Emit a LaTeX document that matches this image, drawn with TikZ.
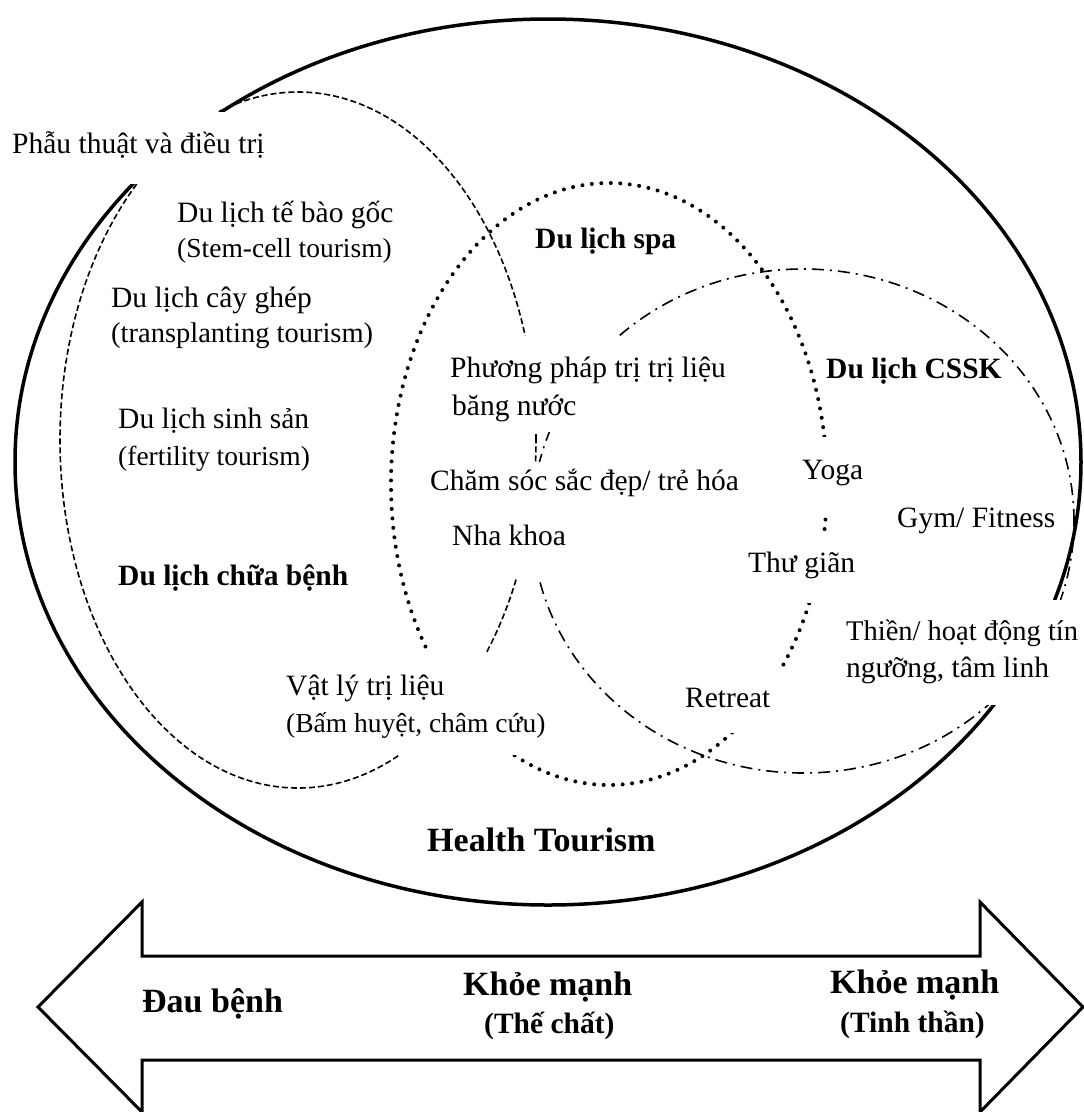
\documentclass[tikz,border=0pt]{standalone}
\usepackage{fontspec}
\setmainfont{Liberation Serif}
\usepackage{tikz}

\begin{document}
\begin{tikzpicture}[x=1pt,y=-1pt,
  outer/.style={line width=3.5pt},
  cure/.style={line width=1.6pt,dash pattern=on 6pt off 3pt},
  spa/.style={line width=4pt,line cap=round,dash pattern=on 0pt off 9.5pt},
  care/.style={line width=1.6pt,dash pattern=on 12pt off 6pt on 2pt off 6pt},
  txt/.style={anchor=base west,inner sep=0pt,fill=white,font=\fontsize{29.5}{34}\selectfont},
  sub/.style={txt,font=\fontsize{27.5}{32}\selectfont},
  hd/.style={txt,font=\bfseries\fontsize{29.5}{34}\selectfont},
  big/.style={txt,font=\bfseries\fontsize{34}{40}\selectfont}]
  \useasboundingbox (0,0) rectangle (1084,1112);
  \fill[white] (0,0) rectangle (1084,1112);

  % the four fields
  \draw[outer] (548,462) ellipse [x radius=533pt,y radius=443pt];
  \draw[cure] (298,440) ellipse [x radius=238pt,y radius=348pt];
  \draw[spa] (609,484) ellipse [x radius=218pt,y radius=301pt];
  \draw[care] (803,521) ellipse [x radius=271pt,y radius=252pt];

  % medical side
  \node[txt,text height=41pt,text depth=31pt] (surg) at (12,153) {Phẫu thuật và điều trị};
  \node[txt] (stem) at (177,222) {Du lịch tế bào gốc};
  \node[sub] (stemen) at (177,257) {(Stem-cell tourism)};
  \node[txt] (trans) at (111,307) {Du lịch cây ghép};
  \node[txt,font=\fontsize{28.5}{32}\selectfont] (transen) at (111,342) {(transplanting tourism)};
  \node[txt] (fert) at (118,428) {Du lịch sinh sản};
  \node[sub] (ferten) at (118,465) {(fertility tourism)};
  \node[hd] (curelbl) at (118,585) {Du lịch chữa bệnh};
  \node[txt,text height=42pt,text depth=17pt] (phys) at (286,695) {\makebox[257pt][l]{Vật lý trị liệu}};
  \node[sub,text height=20pt,text depth=23pt] (acu) at (286,732) {(Bấm huyệt, châm cứu)};

  % spa
  \node[hd] (spalbl) at (535,248) {Du lịch spa};
  \node[txt,text height=41pt,text depth=18pt] (hydro) at (450,377) {Phương pháp trị trị liệu};
  \node[txt,text height=20pt,text depth=17pt,inner xsep=3pt] (water) at (449,415) {băng nước};
  \node[txt,text height=28pt,text depth=20pt] (beauty) at (430,490) {Chăm sóc sắc đẹp/ trẻ hóa};
  \node[txt,text height=35pt,text depth=32pt] (dent) at (452,545) {Nha khoa};

  % wellness
  \node[hd] (carelbl) at (826,378) {Du lịch CSSK};
  \node[txt,text height=42pt,text depth=38pt,inner xsep=4pt] (yoga) at (798,479) {Yoga};
  \node[txt] (gym) at (897,527) {Gym/ Fitness};
  \node[txt,text height=37pt,text depth=31pt] (relax) at (748,572) {Thư giãn};
  \node[txt,text height=40pt,text depth=20pt,font=\fontsize{28.5}{34}\selectfont] (medit) at (846,640) {Thiền/ hoạt động tín};
  \node[txt,text height=17pt,text depth=28pt] (faith) at (846,677) {ngưỡng, tâm linh};
  \node[txt,text height=37pt,text depth=26pt,inner xsep=12pt] (retr) at (673,707) {Retreat};

  \node[big] (health) at (427,851) {Health Tourism};

  % scale arrow
  \draw[line width=3pt,fill=white,line join=miter]
    (38,1007) -- (142,902) -- (142,956) -- (980,956) -- (980,902) -- (1083,1007)
    -- (980,1112) -- (980,1060) -- (142,1060) -- (142,1112) -- cycle;
  \node[big] (ill) at (142,1012) {Đau bệnh};
  \node[big] (bodyfit) at (463,995) {Khỏe mạnh};
  \node[hd] (bodysub) at (484,1033) {(Thế chất)};
  \node[big] (mindfit) at (830,993) {Khỏe mạnh};
  \node[hd] (mindsub) at (840,1032) {(Tinh thần)};
\end{tikzpicture}
\end{document}
